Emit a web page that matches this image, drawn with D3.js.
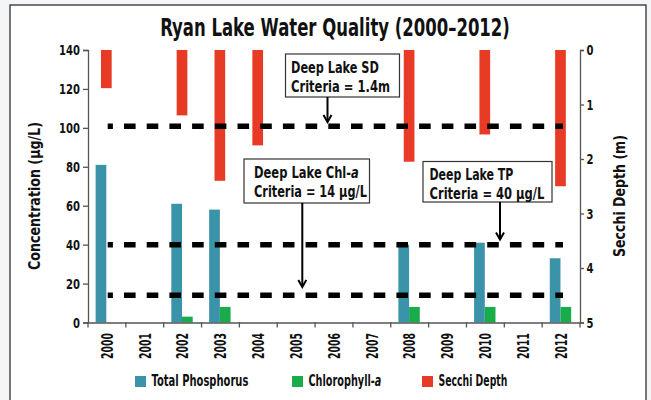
<!DOCTYPE html>
<html><head><meta charset="utf-8">
<script src="https://cdn.jsdelivr.net/npm/d3@7"></script>
<style>
body{margin:0;background:#f3f5f7;}
text{font-family:"DejaVu Sans",sans-serif;font-weight:bold;fill:#111;}
</style></head><body>
<svg id="c" width="651" height="400"></svg>
<script>
const years = ["2000","2001","2002","2003","2004","2005","2006","2007","2008","2009","2010","2011","2012"];
const totalPhosphorus = [81, null, 61, 58, null, null, null, null, 40, null, 41, null, 33];
const chlorophyll = [null, null, 3, 8, null, null, null, null, 8, null, 8, null, 8];
const secchiDepth = [0.7, null, 1.2, 2.4, 1.75, null, null, null, 2.05, null, 1.55, null, 2.5];
const leftTicks = [0,20,40,60,80,100,120,140];
const rightTicks = [0,1,2,3,4,5];
const criteria = [
  {label1:"Deep Lake SD", label2:"Criteria = 1.4m", value:1.4, axis:"right", box:[285.5,54,399.5,97], tx:291, w1:88, w2:99, arrowX:327.5, arrowEnd:122},
  {label1:"Deep Lake Chl-", italic:"a", label2:"Criteria = 14 µg/L", value:14, axis:"left", box:[244,159,369.5,203], tx:254, w1:105, w2:113, arrowX:302.3, arrowEnd:287},
  {label1:"Deep Lake TP", label2:"Criteria = 40 µg/L", value:40, axis:"left", box:[423,161.5,552,202], tx:429.5, w1:84, w2:115, arrowX:500, arrowEnd:239.5}
];
const colors = {tp:"#3a93a9", chl:"#1aab4b", sd:"#e83b26"};

const svg = d3.select("#c");
function label(parent, x, y, str, size, w, o={}){
  const gg = parent.append("g");
  const t = gg.append("text").attr("font-size",size).attr("text-anchor",o.anchor||"start").text(str);
  if (o.italic) t.append("tspan").attr("font-style","italic").text(o.italic);
  const k = w / t.node().getComputedTextLength();
  gg.attr("transform",`translate(${x},${y})${o.rot?` rotate(${o.rot})`:""} scale(${k},1)`);
  return gg;
}

svg.append("rect").attr("x",10).attr("y",5).attr("width",636).attr("height",400).attr("fill","#fff").attr("stroke","#4a4a4a").attr("stroke-width",1.5);

const L=88, R=580, T=50, B=322.5;
const x = d3.scaleBand().domain(years).range([L,R]).padding(0);
const yL = d3.scaleLinear().domain([0,140]).range([B,T]);
const yR = d3.scaleLinear().domain([0,5]).range([T,B]);
const bw = 10.7;

label(svg,335,36,"Ryan Lake Water Quality (2000–2012)",24,350,{anchor:"middle"});

const g = svg.append("g");
years.forEach((yr,i)=>{
  const cx = x(yr)+x.bandwidth()/2 - 0.6;
  if (secchiDepth[i]!=null) g.append("rect").attr("x",cx-bw/2).attr("y",yR(0)).attr("width",bw).attr("height",yR(secchiDepth[i])-yR(0)).attr("fill",colors.sd);
  if (totalPhosphorus[i]!=null) g.append("rect").attr("x",cx-bw).attr("y",yL(totalPhosphorus[i])).attr("width",bw).attr("height",yL(0)-yL(totalPhosphorus[i])).attr("fill",colors.tp);
  if (chlorophyll[i]!=null) g.append("rect").attr("x",cx).attr("y",yL(chlorophyll[i])).attr("width",bw).attr("height",yL(0)-yL(chlorophyll[i])).attr("fill",colors.chl);
});

const axL = svg.append("g").attr("transform",`translate(${L},0)`).call(d3.axisLeft(yL).tickValues(leftTicks).tickSize(5).tickPadding(3));
const axR = svg.append("g").attr("transform",`translate(${R},0)`).call(d3.axisRight(yR).tickValues(rightTicks).tickFormat(d3.format("d")).tickSize(4).tickPadding(2.5));
const axB = svg.append("g").attr("transform",`translate(0,${B})`).call(d3.axisBottom(x).tickSize(0).tickSizeOuter(0).tickFormat(""));
axB.selectAll(".tick").remove();
axB.selectAll(".edge").data(years.concat(["end"])).enter().append("line")
  .attr("x1",(d,i)=>L+i*x.bandwidth()).attr("x2",(d,i)=>L+i*x.bandwidth()).attr("y1",0).attr("y2",5);
years.forEach(d=>label(axB, x(d)+x.bandwidth()/2+5.8, 10.5, d, 15.5, 26, {anchor:"end", rot:-90}));
[axL,axR,axB].forEach(a=>{a.selectAll("path,line").attr("stroke","#555").attr("stroke-width",1.3);});
svg.selectAll(".tick text").attr("font-size",14.5).attr("fill","#111").attr("font-family",null)
  .each(function(){
    const t=d3.select(this); const xv=+t.attr("x");
    const k=(t.text().length*7)/this.getComputedTextLength();
    t.attr("x",0).attr("transform",`translate(${xv},0) scale(${k},1)`);
  });

label(svg,39.5,196,"Concentration (µg/L)",16.5,148,{anchor:"middle",rot:-90});
label(svg,625,196,"Secchi Depth (m)",16.5,122,{anchor:"middle",rot:-90});

criteria.forEach(c=>{
  const yy = c.axis==="right" ? yR(c.value) : yL(c.value);
  svg.append("line").attr("x1",107.7).attr("x2",563).attr("y1",yy).attr("y2",yy)
    .attr("stroke","#000").attr("stroke-width",5.5).attr("stroke-dasharray","11.6,11.1").attr("stroke-dashoffset",6.4);
});
criteria.forEach(c=>{
  const [x0,y0,x1,y1]=c.box;
  svg.append("rect").attr("x",x0).attr("y",y0).attr("width",x1-x0).attr("height",y1-y0).attr("fill","#fff").attr("stroke","#333").attr("stroke-width",1.2);
  label(svg,c.tx,y0+18.5,c.label1,15.5,c.w1,{italic:c.italic});
  label(svg,c.tx,y0+37.5,c.label2,15.5,c.w2);
  svg.append("line").attr("x1",c.arrowX).attr("x2",c.arrowX).attr("y1",y1).attr("y2",c.arrowEnd-1.5).attr("stroke","#000").attr("stroke-width",2);
  svg.append("path").attr("d",`M${c.arrowX-4},${c.arrowEnd-7} L${c.arrowX},${c.arrowEnd} L${c.arrowX+4},${c.arrowEnd-7}`).attr("fill","none").attr("stroke","#000").attr("stroke-width",2);
});

const legend = [{n:"Total Phosphorus",c:colors.tp,x:135,w:97},{n:"Chlorophyll-",it:"a",c:colors.chl,x:292,w:73},{n:"Secchi Depth",c:colors.sd,x:422,w:69}];
legend.forEach(l=>{
  svg.append("rect").attr("x",l.x).attr("y",376).attr("width",11).attr("height",11).attr("fill",l.c);
  label(svg,l.x+16.5,386,l.n,15,l.w,{italic:l.it});
});
</script></body></html>
